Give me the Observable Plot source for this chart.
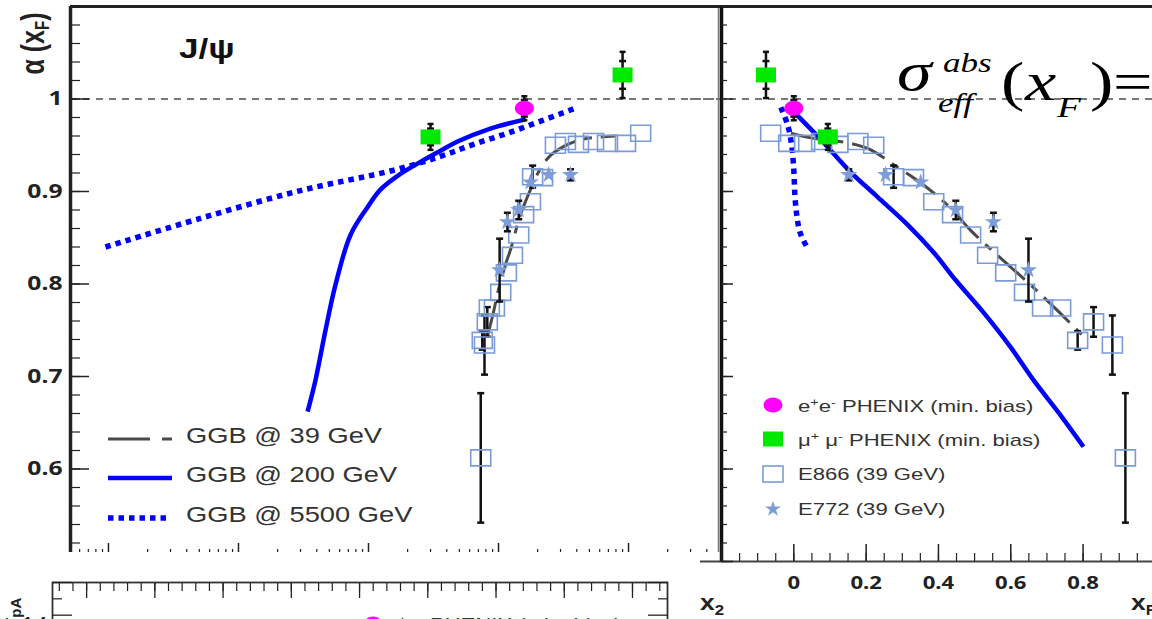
<!DOCTYPE html>
<html><head><meta charset="utf-8">
<script src="https://cdn.jsdelivr.net/npm/d3@7"></script>
<script src="https://cdn.jsdelivr.net/npm/@observablehq/plot@0.6"></script>
<style>
html,body{margin:0;padding:0;background:#fff;overflow:hidden}
#root{position:relative;width:1152px;height:619px;overflow:hidden;background:#fff;font-family:"Liberation Sans",Arial,sans-serif;color:#222}
.abs{position:absolute;white-space:nowrap;line-height:1}
.serif{font-family:"Liberation Serif","Times New Roman",serif;font-style:italic;color:#000}
</style></head><body>
<div id="root">
  <div id="left" class="abs" style="left:0;top:0;width:720px;height:552px;overflow:hidden"></div>
  <div id="right" class="abs" style="left:690px;top:0;width:462px;height:619px;overflow:hidden"></div>
  <div id="bottom" class="abs" style="left:0;top:570px;width:700px;height:49px;overflow:hidden"></div>
</div>
<script>
// ---------------- DATA ----------------
// PHENIX e+e- (mid rapidity)
const eeX2 = [0.0158];
const eeXF = [0.0];
const eeAlpha = [0.990];
const eeStat = [0.009];
const eeSys = [0.013];
// PHENIX mu+mu- (forward / backward)
const mmX2 = [0.0030, 0.090];
const mmXF = [0.094, -0.077];
const mmAlpha = [0.959, 1.026];
const mmStat = [0.009, 0.015];
const mmSys = [0.014, 0.025];
// E866 (39 GeV)
const e866XF = [-0.064,-0.014,0.030,0.077,0.122,0.177,0.221,0.276,0.331,0.387,0.439,0.489,0.536,0.586,0.638,0.688,0.738,0.785,0.829,0.881,0.917];
const e866X2 = [0.124,0.0948,0.0689,0.0538,0.0412,0.0327,0.0274,0.0183,0.0218,0.0176,0.0156,0.0143,0.0128,0.0115,0.0104,0.0093,0.0085,0.0075,0.0082,0.0078,0.0073];
const e866Alpha = [0.963,0.952,0.952,0.954,0.951,0.954,0.950,0.916,0.915,0.889,0.875,0.853,0.831,0.812,0.791,0.774,0.774,0.739,0.759,0.734,0.612];
const e866Err = [0,0,0,0,0,0,0,0.012,0,0,0,0,0,0,0,0,0,0.010,0.016,0.032,0.070];
// E772 (39 GeV)
const e772XF = [0.152,0.254,0.351,0.448,0.552,0.649];
const e772X2 = [0.0358,0.0243,0.0176,0.0143,0.0117,0.0102];
const e772Alpha = [0.918,0.918,0.910,0.880,0.867,0.815];
const e772Err = [0.006,0,0,0.010,0.010,0.034];
// GGB curves vs x2
const ggb39X2 = [0.00822,0.00916,0.0100,0.01132,0.01236,0.01476,0.01762,0.02104,0.02512,0.03105,0.04276,0.06095,0.0794];
const ggb39A2 = [0.743,0.770,0.794,0.821,0.837,0.875,0.902,0.925,0.939,0.948,0.956,0.959,0.960];
const ggb200X2 = [3.40e-4,3.91e-4,4.67e-4,5.57e-4,7.27e-4,9.82e-4,1.236e-3,1.762e-3,2.512e-3,3.58e-3,4.84e-3,8.67e-3,0.01614];
const ggb200A2 = [0.662,0.696,0.750,0.799,0.853,0.883,0.902,0.919,0.932,0.944,0.954,0.968,0.978];
const ggb5500X2 = [9.48e-6,5.1e-5,3.0e-4,1.556e-3,3.58e-3,6.43e-3,0.01173,0.02104,0.04055];
const ggb5500A2 = [0.840,0.871,0.901,0.923,0.938,0.951,0.963,0.976,0.991];
// GGB curves vs xF
const ggb39XF = [-0.008,0.047,0.157,0.213,0.276,0.359,0.434,0.489,0.572,0.655,0.738,0.812];
const ggb39AF = [0.963,0.958,0.952,0.945,0.929,0.907,0.882,0.858,0.828,0.799,0.768,0.739];
const ggb200XF = [0.0,0.075,0.157,0.232,0.315,0.387,0.448,0.525,0.599,0.663,0.738,0.801];
const ggb200AF = [0.986,0.956,0.921,0.894,0.864,0.834,0.804,0.769,0.732,0.696,0.658,0.624];
const ggb5500XF = [-0.036,-0.017,-0.006,0.0,0.003,0.008,0.017,0.036];
const ggb5500AF = [0.991,0.972,0.950,0.923,0.896,0.875,0.856,0.840];
// tick values
const yLabelTicks = [0.6,0.7,0.8,0.9,1.0];
const yMajorTicks = [0.5,0.6,0.7,0.8,0.9,1.0,1.1];
const xFLabelTicks = [0,0.2,0.4,0.6,0.8];
const x2Decades = [1e-5,1e-4,1e-3,1e-2,1e-1];
const legendLeft = ["GGB @ 39 GeV","GGB @ 200 GeV","GGB @ 5500 GeV"];

// ---------------- helpers ----------------
const zip = (keys, arrs) => arrs[0].map((_, i) => Object.fromEntries(keys.map((k, j) => [k, arrs[j][i]])));
const e866 = zip(["xF","x2","alpha","err"], [e866XF,e866X2,e866Alpha,e866Err]);
const e772 = zip(["xF","x2","alpha","err"], [e772XF,e772X2,e772Alpha,e772Err]);
const ee = zip(["xF","x2","alpha","stat","sys"], [eeXF,eeX2,eeAlpha,eeStat,eeSys]);
const mm = zip(["xF","x2","alpha","stat","sys"], [mmXF,mmX2,mmAlpha,mmStat,mmSys]);
const curve = (xs, ys) => xs.map((x, i) => ({x, y: ys[i]}));
const withErr = D => D.filter(d => d.err > 0);

const rectSym = (w, h) => ({draw(c){c.moveTo(-w/2,-h/2);c.lineTo(w/2,-h/2);c.lineTo(w/2,h/2);c.lineTo(-w/2,h/2);c.closePath();}});
const ellSym = (w, h) => ({draw(c){const a=w/2,b=h/2,k=0.5523;c.moveTo(a,0);c.bezierCurveTo(a,k*b,k*a,b,0,b);c.bezierCurveTo(-k*a,b,-a,k*b,-a,0);c.bezierCurveTo(-a,-k*b,-k*a,-b,0,-b);c.bezierCurveTo(k*a,-b,a,-k*b,a,0);c.closePath();}});
const capSym = (w) => ({draw(c){c.moveTo(-w/2,0);c.lineTo(w/2,0);}});

const BLUE = "#0000ff", SQ = "#7b9bd6", STAR = "#7e9dd8", GREEN = "#00ea00", MAG = "#ff00ff";

function errMarks(D, xk, lo, hi, cw) {
  return [
    Plot.ruleX(D, {x: xk, y1: lo, y2: hi, stroke: "#111", strokeWidth: 2.5}),
    Plot.dot(D, {x: xk, y: hi, symbol: capSym(cw), stroke: "#111", fill: "none", strokeWidth: 2.5}),
    Plot.dot(D, {x: xk, y: lo, symbol: capSym(cw), stroke: "#111", fill: "none", strokeWidth: 2.5})
  ];
}

function dataMarks(xk) {
  return [
    ...errMarks(withErr(e866), xk, d => d.alpha - d.err, d => d.alpha + d.err, 7),
    Plot.dot(e866, {x: xk, y: "alpha", symbol: rectSym(20, 16), stroke: SQ, fill: "none", strokeWidth: 1.6}),
    ...errMarks(withErr(e772), xk, d => d.alpha - d.err, d => d.alpha + d.err, 7),
    Plot.dot(e772, {x: xk, y: "alpha", symbol: "star", r: 5.4, fill: STAR, stroke: "none"}),
    ...[ee, mm].flatMap(D => [
      ...errMarks(D, xk, d => d.alpha - d.sys, d => d.alpha + d.sys, 6),
      Plot.dot(D, {x: xk, y: d => d.alpha + d.stat, symbol: capSym(7), stroke: "#111", fill: "none", strokeWidth: 2.5}),
      Plot.dot(D, {x: xk, y: d => d.alpha - d.stat, symbol: capSym(7), stroke: "#111", fill: "none", strokeWidth: 2.5})
    ]),
    Plot.dot(mm, {x: xk, y: "alpha", symbol: rectSym(20, 15), fill: GREEN, stroke: "none"}),
    Plot.dot(ee, {x: xk, y: "alpha", symbol: ellSym(19, 15), fill: MAG, stroke: "none"})
  ];
}

function stretchTicks(svg, sel, sx) {
  svg.querySelectorAll(sel).forEach(t => {
    const tr = t.getAttribute("transform") || "";
    t.setAttribute("transform", `${tr} scale(${sx},1)`);
  });
}

// line styles
const DOT = {strokeWidth: 5.5, strokeDasharray: "5.5,5", strokeLinecap: "butt", strokeLinejoin: "miter"};
const SOLID = {strokeWidth: 4.5, strokeLinecap: "butt"};
const DASH = {strokeWidth: 3, strokeDasharray: "36,9,8,9", strokeLinecap: "butt"};

// ---------------- LEFT PANEL (vs x2, log) ----------------
const xDomL = [10 ** -5.292, 10 ** -0.308];
const x2Minor = [];
for (let e = -6; e <= 0; e++) for (let k = 2; k <= 9; k++) { const v = k * 10 ** e; if (v > xDomL[0] && v < xDomL[1]) x2Minor.push(v); }
const yMinorTicks = d3.range(25, 56).map(i => +(i * 0.02).toFixed(2));
const fmtY = d => d === 1 ? "1" : d3.format(".1f")(d);

const left = Plot.plot({
  width: 720, height: 570,
  marginLeft: 70, marginRight: 2, marginTop: 6, marginBottom: 9,
  x: {type: "log", domain: xDomL},
  y: {domain: [0.5, 1.1]},
  style: {background: "transparent", overflow: "visible"},
  marks: [
    Plot.ruleY([1], {stroke: "#777", strokeWidth: 2, strokeDasharray: "7,6"}),
    Plot.line(curve(ggb5500X2, ggb5500A2), {x: "x", y: "y", stroke: BLUE, ...DOT, curve: "catmull-rom"}),
    Plot.line(curve(ggb200X2, ggb200A2), {x: "x", y: "y", stroke: BLUE, ...SOLID, curve: "catmull-rom"}),
    Plot.line(curve(ggb39X2, ggb39A2), {x: "x", y: "y", stroke: "#4a4a4a", ...DASH, curve: "catmull-rom"}),
    ...dataMarks("x2"),
    Plot.ruleX([xDomL[1]], {stroke: "#777", strokeWidth: 1.5}),
    Plot.ruleY([1.1], {stroke: "#222", strokeWidth: 3}),
    Plot.ruleX([xDomL[0]], {stroke: "#222", strokeWidth: 3.5}),
    Plot.axisY(yLabelTicks, {anchor: "left", tickSize: 0, tickPadding: 8, fontSize: 19, fontWeight: "bold", tickFormat: fmtY, label: null, fill: "#222"}),
    Plot.axisY(yMajorTicks, {anchor: "left", tickSize: -19, tickFormat: () => "", label: null, strokeWidth: 1.5}),
    Plot.axisY(yMinorTicks, {anchor: "left", tickSize: -10, tickFormat: () => "", label: null, strokeWidth: 1.2}),
    Plot.axisX(x2Decades, {anchor: "bottom", tickSize: -18, tickFormat: () => "", label: null, strokeWidth: 1.5}),
    Plot.axisX(x2Minor, {anchor: "bottom", tickSize: -12, tickFormat: () => "", label: null, strokeWidth: 1.2})
  ]
});
stretchTicks(left, 'g[aria-label="y-axis tick label"] text', 1.3);
document.getElementById("left").append(left);

// ---------------- RIGHT PANEL (vs xF) ----------------
const xDomR = [-0.2, 0.992];
const xFMajor = [-0.2,0,0.2,0.4,0.6,0.8];
const xFMinor = d3.range(-4, 20).map(i => +(i * 0.05).toFixed(2));
const right = Plot.plot({
  width: 462, height: 619,
  marginLeft: 31, marginRight: 0, marginTop: 6, marginBottom: 58,
  x: {domain: xDomR},
  y: {domain: [0.5, 1.1]},
  style: {background: "transparent", overflow: "visible"},
  marks: [
    Plot.ruleY([1], {stroke: "#777", strokeWidth: 2, strokeDasharray: "7,6", insetLeft: -31}),
    Plot.line(curve(ggb5500XF, ggb5500AF), {x: "x", y: "y", stroke: BLUE, ...DOT, curve: "catmull-rom"}),
    Plot.line(curve(ggb200XF, ggb200AF), {x: "x", y: "y", stroke: BLUE, ...SOLID, curve: "catmull-rom"}),
    Plot.line(curve(ggb39XF, ggb39AF), {x: "x", y: "y", stroke: "#4a4a4a", ...DASH, curve: "catmull-rom"}),
    ...dataMarks("xF"),
    Plot.ruleY([1.1], {stroke: "#222", strokeWidth: 3, insetLeft: -31}),
    Plot.ruleY([0.5], {stroke: "#444", strokeWidth: 2, insetLeft: -21}),
    Plot.ruleX([-0.2], {stroke: "#111", strokeWidth: 3.5}),
    Plot.axisY(yMajorTicks, {anchor: "left", tickSize: -12, tickFormat: () => "", label: null, strokeWidth: 1.5}),
    Plot.axisY(yMinorTicks, {anchor: "left", tickSize: -6, tickFormat: () => "", label: null, strokeWidth: 1.2}),
    Plot.axisX(xFMajor, {anchor: "bottom", tickSize: -17, tickFormat: () => "", label: null, strokeWidth: 1.5}),
    Plot.axisX(xFMinor, {anchor: "bottom", tickSize: -8, tickFormat: () => "", label: null, strokeWidth: 1.2}),
    Plot.axisX(xFLabelTicks, {anchor: "bottom", tickSize: 0, tickPadding: 15, fontSize: 17, fontWeight: "bold", label: null, fill: "#222", tickFormat: d => d === 0 ? "0" : d3.format(".1f")(d)})
  ]
});
stretchTicks(right, 'g[aria-label="x-axis tick label"] text', 1.3);
document.getElementById("right").append(right);

// ---------------- BOTTOM PARTIAL PANEL (sigma_pA) ----------------
const bMajor = d3.range(0, 9);
const bMinor = d3.range(-2, 43).map(i => +(i * 0.2).toFixed(1));
const bottom = Plot.plot({
  width: 700, height: 130,
  marginLeft: 52, marginRight: 33, marginTop: 12, marginBottom: 20,
  x: {domain: [-0.5, 8.513]},
  y: {domain: [1.2, 1.5]},
  style: {background: "transparent", overflow: "visible"},
  marks: [
    Plot.frame({stroke: "#333", strokeWidth: 1.8}),
    Plot.axisX(bMajor, {anchor: "top", tickSize: -15, tickFormat: () => "", label: null, strokeWidth: 1.3}),
    Plot.axisX(bMinor, {anchor: "top", tickSize: -8, tickFormat: () => "", label: null, strokeWidth: 1.2}),
    Plot.axisY([1.3, 1.4, 1.5], {anchor: "left", tickSize: -20, tickFormat: () => "", label: null, strokeWidth: 1.3}),
    Plot.axisY([1.25, 1.35, 1.45], {anchor: "left", tickSize: -10, tickFormat: () => "", label: null, strokeWidth: 1.2}),
    Plot.axisY([1.3, 1.4, 1.5], {anchor: "right", tickSize: -20, tickFormat: () => "", label: null, strokeWidth: 1.3}),
    Plot.axisY([1.25, 1.35, 1.45], {anchor: "right", tickSize: -10, tickFormat: () => "", label: null, strokeWidth: 1.2}),
    Plot.axisY([1.3, 1.4], {anchor: "left", tickSize: 0, tickPadding: 6, dy: 9, fontSize: 17, fontWeight: "bold", label: null, fill: "#222", tickFormat: d => d.toFixed(1)})
  ]
});
document.getElementById("bottom").append(bottom);

// ---------------- TEXT / LEGENDS ----------------
const root = document.getElementById("root");
function addHTML(html, css, cls) {
  const d = document.createElement("div");
  d.className = "abs" + (cls ? " " + cls : "");
  d.style.cssText += css;
  d.innerHTML = html;
  root.append(d);
  return d;
}
const SX = 'transform:scaleX(1.3);transform-origin:0 50%;';
// y label
addHTML('α (x<sub style="font-size:15px;vertical-align:-4px">F</sub>)',
  'left:-4px;top:30px;width:76px;text-align:center;font-size:25px;font-weight:bold;color:#222;transform:rotate(-90deg) scaleY(1.3);transform-origin:50% 50%;');
// J/psi
addHTML('J/ψ', 'left:179px;top:36px;font-size:27px;font-weight:bold;color:#111;' + SX);
// formula  sigma_eff^abs (x_F) =
addHTML('σ', 'left:897px;top:45px;font-size:54px;' + SX, "serif");
addHTML('abs', 'left:943px;top:50px;font-size:27px;' + SX, "serif");
addHTML('eff', 'left:938px;top:90px;font-size:27px;' + SX, "serif");
addHTML('(', 'left:1001px;top:55px;font-size:54px;font-style:normal;' + SX, "serif");
addHTML('x', 'left:1025px;top:55px;font-size:54px;' + SX, "serif");
addHTML('F', 'left:1057px;top:92px;font-size:30px;' + SX, "serif");
addHTML(')', 'left:1090px;top:55px;font-size:54px;font-style:normal;' + SX, "serif");
addHTML('=', 'left:1113px;top:55px;font-size:54px;font-style:normal;' + SX, "serif");

// left legend
const legStyles = [
  {stroke: "#4a4a4a", w: 3, dash: "42,12,10,100"},
  {stroke: BLUE, w: 4.5, dash: null},
  {stroke: BLUE, w: 5.5, dash: "5.5,5"}
];
const legY = [436, 475, 515];
legendLeft.forEach((t, i) => {
  const s = legStyles[i];
  const len = i === 2 ? 60 : 64;
  addHTML(`<svg width="70" height="10"><line x1="0" y1="5" x2="${len}" y2="5" stroke="${s.stroke}" stroke-width="${s.w}" ${s.dash ? `stroke-dasharray="${s.dash}"` : ""}/></svg>`,
    `left:108px;top:${legY[i] - 5}px;`);
  addHTML(t, `left:186px;top:${legY[i] - 11}px;font-size:22px;color:#333;transform:scaleX(1.24);transform-origin:0 50%;`);
});

// right legend
const sup = s => `<sup style="font-size:11px;vertical-align:6px">${s}</sup>`;
const rLeg = [
  {sym: `<svg width="22" height="18"><ellipse cx="11" cy="9" rx="9.5" ry="7.5" fill="${MAG}"/></svg>`, text: `e${sup("+")}e${sup("-")} PHENIX (min. bias)`, y: 405},
  {sym: `<svg width="22" height="18"><rect x="1" y="1.5" width="20" height="15" fill="${GREEN}"/></svg>`, text: `μ${sup("+")} μ${sup("-")} PHENIX (min. bias)`, y: 439},
  {sym: `<svg width="22" height="18"><rect x="1" y="1" width="20" height="16" fill="none" stroke="${SQ}" stroke-width="1.6"/></svg>`, text: `E866 (39 GeV)`, y: 474},
  {sym: `<svg width="22" height="18"><path transform="translate(11,9)" d="${d3.symbol(d3.symbolStar, Math.PI * 5 * 5)()}" fill="${STAR}"/></svg>`, text: `E772 (39 GeV)`, y: 509}
];
rLeg.forEach(r => {
  addHTML(r.sym, `left:762px;top:${r.y - 9}px;`);
  addHTML(r.text, `left:798px;top:${r.y - 8.5}px;font-size:17px;color:#333;` + SX);
});

// axis titles
addHTML('x<sub style="font-size:14px;vertical-align:-5px">2</sub>', 'left:700px;top:592px;font-size:22px;font-weight:bold;color:#222;transform:scaleX(1.2);transform-origin:0 50%;');
addHTML('x<sub style="font-size:14px;vertical-align:-5px">F</sub>', 'left:1131px;top:592px;font-size:22px;font-weight:bold;color:#222;transform:scaleX(1.2);transform-origin:0 50%;');
// sigma_pA (bottom panel, mostly cut)
addHTML('σ<sub style="font-size:15px;vertical-align:-4px">pA</sub>', 'left:-14px;top:603px;width:50px;text-align:center;font-size:20px;font-weight:bold;color:#222;transform:rotate(-90deg);transform-origin:50% 50%;');
// bottom panel legend entry (cut off)
addHTML(`<svg width="22" height="18"><ellipse cx="11" cy="9" rx="9.5" ry="7.5" fill="${MAG}"/></svg>`, 'left:362px;top:615px;');
addHTML(`e${sup("+")}e${sup("-")} PHENIX (min. bias)`, 'left:386px;top:615px;font-size:17px;color:#333;' + SX);
</script>
</body></html>
